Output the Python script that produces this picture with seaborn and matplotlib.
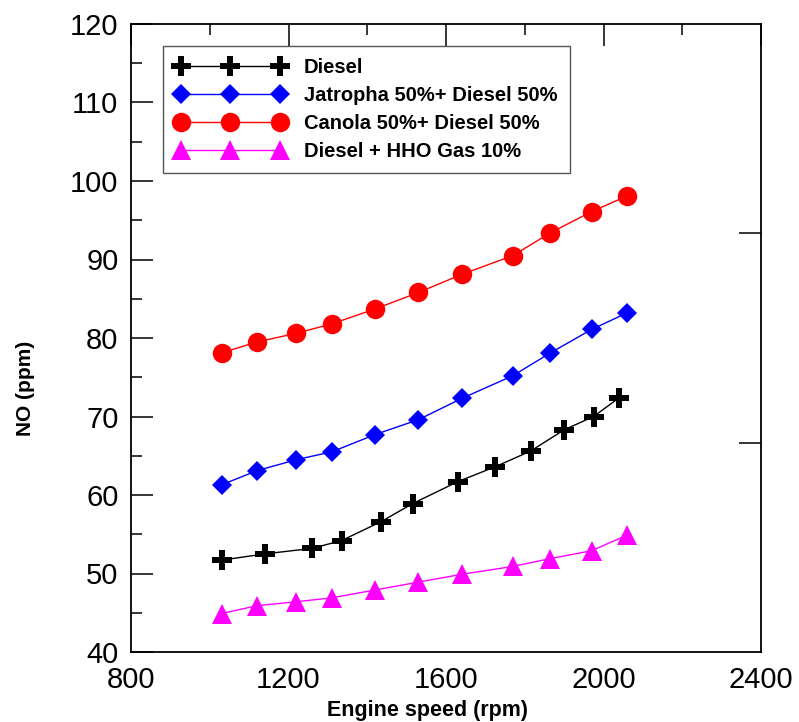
import numpy as np
import pandas as pd
import matplotlib
matplotlib.use('Agg')
import matplotlib.pyplot as plt
import seaborn as sns
from matplotlib.ticker import MultipleLocator

# engine speed (rpm) for the three blends
speed = [1030, 1120, 1220, 1310, 1420, 1530, 1640, 1770, 1865, 1970, 2060]
# diesel was measured at slightly different speeds
speed_diesel = [1030, 1140, 1260, 1335, 1435, 1515, 1630, 1725, 1815, 1900, 1975, 2040]

no_diesel = [51.7, 52.5, 53.2, 54.2, 56.6, 58.9, 61.7, 63.6, 65.6, 68.3, 70.0, 72.4]
no_jatropha = [61.3, 63.1, 64.5, 65.5, 67.7, 69.6, 72.3, 75.2, 78.1, 81.1, 83.2]
no_canola = [78.1, 79.5, 80.6, 81.8, 83.7, 85.8, 88.1, 90.5, 93.4, 96.1, 98.1]
no_hho = [44.9, 45.9, 46.4, 46.9, 47.9, 48.9, 49.9, 50.9, 51.9, 52.9, 54.9]

sns.set_style('white')
plt.rcParams['font.family'] = ['Liberation Sans', 'DejaVu Sans']
plt.rcParams['text.color'] = 'black'
plt.rcParams['axes.labelcolor'] = 'black'
plt.rcParams['xtick.color'] = 'black'
plt.rcParams['ytick.color'] = 'black'

fig = plt.figure(figsize=(7.99, 7.22), dpi=100)
ax = fig.add_axes([131/799, 1 - 652/722, 630/799, 628/722])

series = [
    (speed_diesel, no_diesel, 'Diesel', 'black', 'P', 14),
    (speed, no_jatropha, 'Jatropha 50%+ Diesel 50%', '#0000ff', 'D', 10),
    (speed, no_canola, 'Canola 50%+ Diesel 50%', '#ff0000', 'o', 14),
    (speed, no_hho, 'Diesel + HHO Gas 10%', '#ff00ff', '^', 14),
]
for xs, ys, name, col, mk, ms in series:
    df = pd.DataFrame({'speed': xs, 'NO': ys})
    sns.lineplot(data=df, x='speed', y='NO', ax=ax, color=col, marker=mk,
                 markersize=ms, markeredgewidth=0, linewidth=1, label=name,
                 sort=False, errorbar=None)

ax.set_xlim(800, 2400)
ax.set_ylim(40, 120)
ax.xaxis.set_major_locator(MultipleLocator(400))
ax.xaxis.set_minor_locator(MultipleLocator(200))
ax.yaxis.set_major_locator(MultipleLocator(10))
ax.yaxis.set_minor_locator(MultipleLocator(5))
ax.tick_params(axis='both', which='major', direction='in', length=16, width=1.1,
               labelsize=21, top=True, right=False, colors='black')
ax.tick_params(axis='both', which='minor', direction='in', length=8, width=1.1,
               top=True, right=False, colors='black')
ax.tick_params(axis='x', which='major', pad=10)
ax.tick_params(axis='y', which='major', pad=9)
for sp in ax.spines.values():
    sp.set_linewidth(1.3)
    sp.set_color('black')

# right-hand axis only carries two unlabeled ticks
ax2 = ax.twinx()
ax2.set_ylim(0, 3)
ax2.set_yticks([1, 2])
ax2.set_yticklabels([])
ax2.tick_params(axis='y', direction='in', length=16, width=1.1, colors='black')
for sp in ax2.spines.values():
    sp.set_visible(False)

ax.set_xlabel('Engine speed (rpm)', fontsize=15.5, fontweight='bold')
ax.set_ylabel('NO (ppm)', fontsize=15, fontweight='bold')
ax.xaxis.set_label_coords(0.47, -0.076)
ax.yaxis.set_label_coords(-0.152, 0.42)

leg = ax.legend(loc='upper left', bbox_to_anchor=(0.0508, 0.965), borderaxespad=0,
                numpoints=3, handlelength=5.5, handletextpad=0.9, labelspacing=0.45,
                borderpad=0.6, fancybox=False, framealpha=1, edgecolor='#555555',
                prop={'weight': 'bold', 'size': 14.5})
leg.get_frame().set_linewidth(1.0)
for t in leg.get_texts():
    t.set_color('black')

fig.savefig('out.png', dpi=100)
